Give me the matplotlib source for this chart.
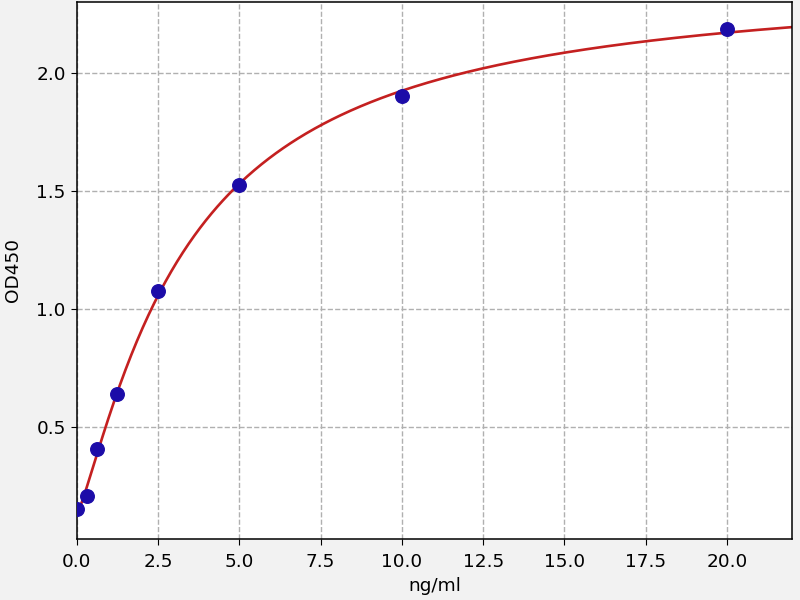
import numpy as np
import matplotlib
matplotlib.use('Agg')
import matplotlib.pyplot as plt

# standard points
conc = np.array([0.0, 0.3125, 0.625, 1.25, 2.5, 5.0, 10.0, 20.0])
od450 = np.array([0.150, 0.205, 0.405, 0.638, 1.076, 1.525, 1.903, 2.183])

x_ticks = [0.0, 2.5, 5.0, 7.5, 10.0, 12.5, 15.0, 17.5, 20.0]
y_ticks = [0.5, 1.0, 1.5, 2.0]


def fit_4pl(x, y):
    # crude 4PL fit: grid over b, c; a and d by linear least squares
    best = None
    for b in np.linspace(0.5, 2.5, 201):
        for c in np.linspace(0.5, 15, 291):
            g = 1.0 / (1.0 + (x / c) ** b)
            A = np.column_stack([g, 1 - g])
            coef, *_ = np.linalg.lstsq(A, y, rcond=None)
            err = np.sum((A @ coef - y) ** 2)
            if best is None or err < best[0]:
                best = (err, coef[0], b, c, coef[1])
    return best[1:]


a, b, c, d = fit_4pl(conc, od450)
xs = np.linspace(0, 22, 500)
ys = d + (a - d) / (1 + (xs / c) ** b)

plt.rcParams['font.size'] = 13.3
plt.rcParams['xtick.major.size'] = 4.4
plt.rcParams['ytick.major.size'] = 4.4
plt.rcParams['xtick.major.pad'] = 5.5
plt.rcParams['axes.linewidth'] = 1.1

fig = plt.figure(figsize=(8, 6), dpi=100, facecolor='#f2f2f2')
ax = fig.add_axes([0.096, 0.102, 0.894, 0.895])
ax.set_facecolor('white')

ax.plot(xs, ys, color='#c42020', linewidth=1.9, zorder=2)
ax.scatter(conc, od450, s=95, color='#1c0ca8', zorder=3)

ax.set_xlim(0, 22)
ax.set_ylim(0.025, 2.30)
ax.set_xticks(x_ticks)
ax.set_yticks(y_ticks)
ax.grid(True, linestyle='--', color='#b0b0b0', linewidth=1.0)
ax.set_axisbelow(True)
ax.set_xlabel('ng/ml', labelpad=5)
ax.set_ylabel('OD450', labelpad=10)

fig.savefig('out.png', dpi=100, facecolor=fig.get_facecolor())
